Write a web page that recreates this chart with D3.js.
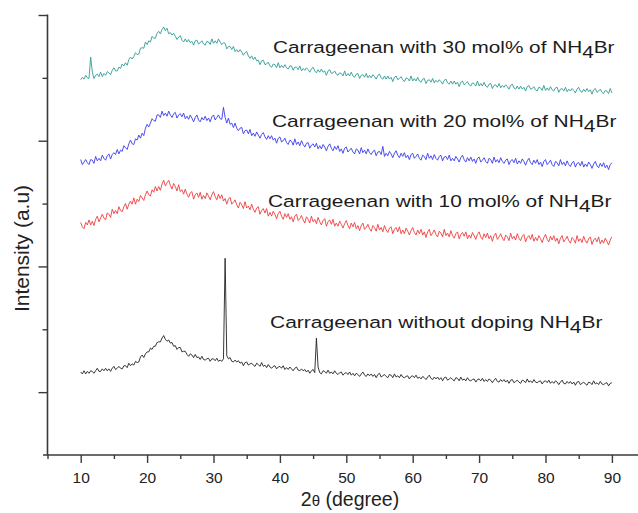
<!DOCTYPE html>
<html><head><meta charset="utf-8">
<script src="https://cdn.jsdelivr.net/npm/d3@7"></script>
<style>html,body{margin:0;padding:0;background:#fff}svg{display:block}</style>
</head><body>
<svg id="chart" width="638" height="513"></svg>
<script>
// ---- data ----
const twoTheta = [
10,10.25,10.5,10.75,11,11.25,11.5,11.75,12,12.25,12.5,12.75,13,13.25,13.5,13.75,14,14.25,14.5,14.75,15,15.25,15.5,15.75,16,16.25,16.5,16.75,17,17.25,17.5,17.75,18,18.25,18.5,18.75,19,19.25,19.5,19.75,
20,20.25,20.5,20.75,21,21.25,21.5,21.75,22,22.25,22.5,22.75,23,23.25,23.5,23.75,24,24.25,24.5,24.75,25,25.25,25.5,25.75,26,26.25,26.5,26.75,27,27.25,27.5,27.75,28,28.25,28.5,28.75,29,29.25,29.5,29.75,
30,30.25,30.5,30.75,31,31.25,31.5,31.75,32,32.25,32.5,32.75,33,33.25,33.5,33.75,34,34.25,34.5,34.75,35,35.25,35.5,35.75,36,36.25,36.5,36.75,37,37.25,37.5,37.75,38,38.25,38.5,38.75,39,39.25,39.5,39.75,
40,40.25,40.5,40.75,41,41.25,41.5,41.75,42,42.25,42.5,42.75,43,43.25,43.5,43.75,44,44.25,44.5,44.75,45,45.25,45.5,45.75,46,46.25,46.5,46.75,47,47.25,47.5,47.75,48,48.25,48.5,48.75,49,49.25,49.5,49.75,
50,50.25,50.5,50.75,51,51.25,51.5,51.75,52,52.25,52.5,52.75,53,53.25,53.5,53.75,54,54.25,54.5,54.75,55,55.25,55.5,55.75,56,56.25,56.5,56.75,57,57.25,57.5,57.75,58,58.25,58.5,58.75,59,59.25,59.5,59.75,
60,60.25,60.5,60.75,61,61.25,61.5,61.75,62,62.25,62.5,62.75,63,63.25,63.5,63.75,64,64.25,64.5,64.75,65,65.25,65.5,65.75,66,66.25,66.5,66.75,67,67.25,67.5,67.75,68,68.25,68.5,68.75,69,69.25,69.5,69.75,
70,70.25,70.5,70.75,71,71.25,71.5,71.75,72,72.25,72.5,72.75,73,73.25,73.5,73.75,74,74.25,74.5,74.75,75,75.25,75.5,75.75,76,76.25,76.5,76.75,77,77.25,77.5,77.75,78,78.25,78.5,78.75,79,79.25,79.5,79.75,
80,80.25,80.5,80.75,81,81.25,81.5,81.75,82,82.25,82.5,82.75,83,83.25,83.5,83.75,84,84.25,84.5,84.75,85,85.25,85.5,85.75,86,86.25,86.5,86.75,87,87.25,87.5,87.75,88,88.25,88.5,88.75,89,89.25,89.5,89.75,
90];

const undoped = [
132,129,134,129,133,130,134,133,130,134,138,133,133,137,134,138,134,137,133,138,141,136,138,141,138,137,142,142,139,146,142,145,143,149,147,148,156,159,155,161,
164,164,170,168,173,173,179,180,180,186,190,184,181,183,178,179,173,174,168,171,171,164,165,165,160,157,161,159,155,160,155,156,152,157,152,151,153,154,149,153,
153,150,154,149,151,149,153,313,158,153,155,149,148,151,148,150,146,148,142,147,148,143,145,146,143,141,146,144,141,147,141,143,139,144,140,138,141,142,137,140,
141,138,142,136,139,136,140,137,134,138,140,135,134,137,134,136,132,135,130,134,136,131,186,140,131,129,134,133,130,135,130,132,129,134,130,128,131,132,127,130,
131,128,132,127,130,126,130,128,125,129,132,127,125,129,126,129,125,128,123,128,130,124,126,128,125,123,128,127,123,129,124,126,123,128,124,123,125,126,121,125,
126,123,127,122,124,121,125,123,120,124,127,122,120,124,121,124,120,123,118,123,124,119,121,123,120,118,123,122,118,124,119,121,118,123,119,118,120,121,116,120,
121,118,122,117,120,117,121,119,115,119,122,117,116,120,117,120,116,119,114,119,120,115,117,119,116,114,119,118,115,121,116,118,115,120,116,115,117,118,113,117,
118,115,119,114,117,114,118,116,112,116,119,114,113,117,114,117,113,116,111,116,117,112,114,116,113,111,116,115,112,118,113,115,112,117,113,112,114,115,110,114,
115];

const mol10 = [
370,363,360,370,366,374,366,372,365,375,380,371,377,383,377,374,385,383,378,391,384,389,384,395,389,387,395,400,391,399,404,399,409,399,407,403,413,409,405,414,
420,414,412,422,418,427,420,427,421,431,437,428,433,437,429,423,432,427,420,430,419,422,415,423,415,410,417,419,407,414,417,410,418,407,413,408,417,412,406,414,
419,411,406,415,408,414,404,408,399,407,410,399,402,406,398,393,402,398,392,403,393,396,390,399,391,386,393,395,383,389,392,385,392,380,386,380,388,383,376,384,
388,380,375,384,378,384,375,379,371,380,383,373,376,381,374,369,379,375,369,380,371,375,368,378,371,366,373,376,364,371,374,367,375,364,369,364,372,367,361,368,
373,365,360,369,363,370,360,365,357,365,369,359,362,367,360,356,365,362,356,367,358,362,355,365,358,354,361,363,352,359,362,355,363,352,358,352,361,356,350,357,
362,354,350,358,352,359,350,355,346,355,359,349,353,358,351,347,356,353,347,359,349,353,347,357,349,345,352,355,344,351,354,348,355,344,350,345,354,349,343,351,
355,347,343,352,346,353,344,349,340,349,353,343,347,352,345,341,350,347,341,353,344,348,342,352,345,341,348,351,339,346,349,343,351,340,346,341,349,344,338,346,
351,343,339,348,342,349,340,345,336,345,349,339,343,348,341,337,346,343,337,349,340,344,338,348,341,337,344,347,335,342,345,339,347,336,342,337,345,340,334,342,
347];

const mol20 = [
470,462,466,470,465,462,470,469,464,475,468,472,468,477,472,469,476,479,471,478,481,478,486,479,485,483,492,489,486,495,501,495,494,503,501,509,504,512,508,520,
526,522,528,535,532,531,541,541,537,547,540,544,539,547,541,537,543,545,536,541,543,538,544,535,539,534,541,536,530,537,541,533,530,537,533,539,532,536,530,538,
541,533,537,541,535,534,553,537,528,536,526,528,521,528,520,516,520,521,511,516,517,511,518,508,512,507,514,509,504,510,513,506,502,508,503,508,501,504,496,504,
506,498,500,504,497,494,501,499,493,503,494,498,492,500,494,490,496,497,488,493,495,490,496,487,492,487,494,490,484,491,495,488,484,491,486,492,483,487,480,488,
490,482,485,488,482,479,487,485,479,489,481,485,479,487,481,478,483,485,476,482,483,478,491,475,480,476,483,479,473,480,484,477,473,480,475,481,473,477,470,478,
480,472,475,479,472,469,477,475,470,480,472,476,470,478,472,469,475,477,468,474,475,470,477,468,472,468,475,471,466,473,477,470,466,473,468,474,467,471,464,472,
474,466,469,473,467,464,472,470,464,474,466,470,465,473,467,464,469,471,462,468,470,465,472,463,468,464,471,467,461,468,472,465,462,469,464,470,462,466,459,467,
470,462,465,469,462,459,467,465,460,470,462,466,460,468,462,459,465,467,458,464,465,460,467,458,463,459,466,462,456,463,467,460,457,464,459,465,457,461,454,462,
465];

const mol30 = [
597,601,598,604,600,599,633,609,599,604,606,602,609,602,607,604,610,608,605,612,616,611,611,617,615,622,619,624,620,629,633,630,634,640,637,638,647,648,647,657,
653,659,657,666,663,663,671,674,670,677,681,675,679,670,672,668,671,666,661,665,667,660,657,662,657,661,656,658,652,659,660,654,656,659,654,652,658,657,653,662,
655,659,655,662,657,653,656,655,646,650,650,645,650,642,645,641,645,641,636,640,642,635,631,635,629,633,627,628,621,627,628,621,622,625,619,617,622,621,616,624,
616,620,616,621,616,614,619,619,612,617,617,613,619,611,615,612,616,613,609,614,617,611,608,613,609,614,609,611,604,611,613,607,608,611,606,604,608,607,603,611,
603,607,603,609,603,601,606,607,599,604,605,601,607,600,604,600,605,602,598,604,606,600,598,603,598,603,598,601,594,601,603,597,599,602,597,594,600,599,595,603,
595,599,595,601,595,593,598,599,591,596,597,593,599,592,596,593,597,594,590,596,598,592,590,595,590,595,590,593,586,593,595,589,591,594,589,587,592,591,587,595,
587,591,587,593,587,585,590,591,583,588,589,585,591,584,588,585,589,586,582,588,590,584,582,587,582,587,582,585,579,586,588,582,583,586,581,579,585,584,580,588,
580,584,580,586,581,579,584,585,577,582,583,579,585,578,582,579,583,580,576,582,585,579,577,582,578,583,578,581,574,581,583,577,579,582,577,575,580,579,575,583,
576];

const seriesValues = [undoped, mol10, mol20, mol30];
const seriesColors = ["#222222", "#ef3d3d", "#3a3aee", "#2f9c95"];
const labelMain = ["Carrageenan without doping NH", "Carrageenan with 10 mol% of NH", "Carrageenan with 20 mol% of NH", "Carrageenan with 30 mol% of NH"];
const labelSub = "4";
const labelEnd = "Br";

const xMajorTicks = [10,20,30,40,50,60,70,80,90];
const xMinorTicks = [5,15,25,35,45,55,65,75,85,95];
const yMajorTicks = [100,300,500,700];
const yMinorTicks = [200,400,600];

// ---- layout ----
const svg = d3.select("#chart");
const font = "'Liberation Sans', Arial, Helvetica, sans-serif";
const axisColor = "#3a3a3a";
const x = d3.scaleLinear().domain([5, 95]).range([47.5, 645.1]);
const y = d3.scaleLinear().domain([0, 700]).range([455, 15]);

// series
const line = d3.line().x((d, i) => x(twoTheta[i])).y(d => y(d));
svg.append("g").selectAll("path").data(seriesValues).join("path")
  .attr("d", d => line(d))
  .attr("fill", "none")
  .attr("stroke", (d, i) => seriesColors[i])
  .attr("stroke-width", 0.9)
  .attr("stroke-linejoin", "round");

// axes
function styleAxis(g) {
  g.select(".domain").remove();
  g.selectAll(".tick line").attr("stroke", axisColor).attr("stroke-width", 1.4);
  g.selectAll(".tick text").attr("fill", "#222").style("font-family", font).style("font-size", "15.5px");
}
svg.append("g").attr("transform", "translate(0,455)")
  .call(d3.axisBottom(x).tickValues(xMinorTicks).tickSize(4).tickFormat(""))
  .call(styleAxis);
svg.append("g").attr("transform", "translate(0,455)")
  .call(d3.axisBottom(x).tickValues(xMajorTicks).tickSize(8).tickPadding(9).tickFormat(d3.format("d")))
  .call(styleAxis);
svg.append("g").attr("transform", "translate(47.5,0)")
  .call(d3.axisLeft(y).tickValues(yMinorTicks).tickSize(5).tickFormat(""))
  .call(styleAxis);
svg.append("g").attr("transform", "translate(47.5,0)")
  .call(d3.axisLeft(y).tickValues(yMajorTicks).tickSize(9).tickFormat(""))
  .call(styleAxis);
svg.append("line").attr("x1", 43).attr("x2", 638).attr("y1", 455).attr("y2", 455)
  .attr("stroke", axisColor).attr("stroke-width", 1.6);
svg.append("line").attr("x1", 47.5).attr("x2", 47.5).attr("y1", 14.5).attr("y2", 455)
  .attr("stroke", axisColor).attr("stroke-width", 1.6);

// axis titles
const xt = svg.append("text").attr("x", 350).attr("y", 506).attr("text-anchor", "middle")
  .attr("fill", "#222").style("font-family", font).style("font-size", "19.5px");
xt.append("tspan").text("2");
xt.append("tspan").style("font-size", "15px").text("θ");
xt.append("tspan").text(" (degree)");

svg.append("text").attr("transform", "translate(29,248.5) rotate(-90)").attr("text-anchor", "middle")
  .attr("fill", "#222").style("font-family", font).style("font-size", "21px")
  .text("Intensity (a.u)");

// annotations
const labelPos = [[270, 328, 333], [268, 207, 344], [272, 127, 345], [273, 53, 342]];
labelMain.forEach((txt, i) => {
  const t = svg.append("text").attr("x", 0).attr("y", 0).attr("fill", "#1c1c1c")
    .style("font-family", font).style("font-size", "17px");
  t.append("tspan").text(txt);
  t.append("tspan").attr("dy", 5).text(labelSub);
  t.append("tspan").attr("dy", -5).text(labelEnd);
  const nat = t.node().getBBox().width;
  const [lx, ly, lw] = labelPos[i];
  t.attr("transform", `translate(${lx},${ly}) scale(${lw / nat},1)`);
});
</script>
</body></html>
